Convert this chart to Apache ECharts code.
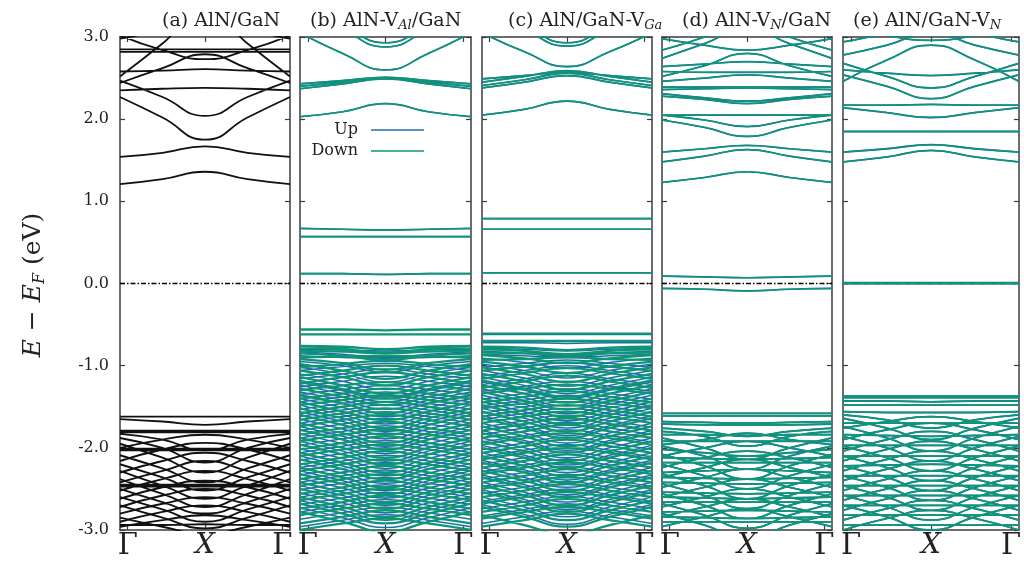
<!DOCTYPE html>
<html>
<head>
<meta charset="utf-8">
<script src="https://cdn.jsdelivr.net/npm/echarts@6/dist/echarts.min.js"></script>
<style>
  html, body { margin: 0; padding: 0; background: #ffffff; }
  #chart { width: 1024px; height: 561px; }
</style>
</head>
<body>
<div id="chart"></div>
<script>
// Band structures along Γ → X → Γ.
// Each band is [E(Γ), E(halfway to X), E(X)] in eV relative to E_F;
// the X → Γ leg is the same path walked back.
const kLabels = ['Γ', 'X', 'Γ'];
const kPoints = [0, 0.5, 1, 1.5, 2];

// (a) AlN/GaN
const aCond = [
  [1.21, 1.27, 1.36], [1.54, 1.59, 1.67], [2.27, 2.02, 1.75], [2.47, 2.27, 2.04],
  [2.35, 2.37, 2.38], [2.58, 2.59, 2.61], [2.52, 2.92, 3.35], [3.02, 2.84, 2.73],
  [2.44, 2.62, 2.79], [2.82, 2.82, 2.82], [2.85, 2.85, 2.85], [2.98, 3.10, 3.30]
];
const aVal = [
  [-1.62, -1.62, -1.62], [-1.65, -1.68, -1.72], [-1.79, -1.79, -1.79], [-1.81, -1.81, -1.81],
  [-1.83, -1.90, -2.03], [-2.00, -1.90, -1.84], [-1.88, -2.00, -2.18], [-2.16, -2.02, -1.94],
  [-2.01, -2.01, -2.01], [-2.03, -2.03, -2.03], [-1.95, -2.12, -2.30], [-2.30, -2.16, -2.06],
  [-2.09, -2.25, -2.42], [-2.42, -2.28, -2.16], [-2.20, -2.36, -2.52], [-2.52, -2.38, -2.28],
  [-2.45, -2.45, -2.45], [-2.47, -2.47, -2.47], [-2.28, -2.46, -2.62], [-2.62, -2.48, -2.40],
  [-2.38, -2.56, -2.72], [-2.72, -2.58, -2.50], [-2.50, -2.66, -2.80], [-2.80, -2.68, -2.60],
  [-2.60, -2.75, -2.90], [-2.90, -2.78, -2.70], [-2.70, -2.85, -2.98], [-2.96, -2.88, -2.82],
  [-2.85, -2.96, -3.05], [-2.94, -2.94, -2.93]
];

// (b) AlN-V_Al/GaN
const bCond = [
  [0.12, 0.12, 0.11], [0.57, 0.57, 0.57], [0.67, 0.66, 0.65],
  [2.03, 2.09, 2.19], [2.43, 2.47, 2.51], [2.40, 2.45, 2.50], [2.37, 2.43, 2.49],
  [3.05, 2.80, 2.60], [3.40, 3.10, 2.88], [3.45, 3.15, 2.93]
];
const bValDown = [
  [-0.56, -0.56, -0.57], [-0.62, -0.62, -0.62],
  [-0.76, -0.77, -0.80], [-0.78, -0.80, -0.84], [-0.82, -0.83, -0.85], [-0.85, -0.88, -0.93], [-0.90, -0.89, -0.88],
  [-0.92, -0.97, -1.05], [-1.02, -0.98, -0.94], [-0.98, -1.06, -1.16], [-1.12, -1.06, -1.00],
  [-1.06, -1.14, -1.24], [-1.22, -1.14, -1.08], [-1.14, -1.24, -1.34], [-1.30, -1.24, -1.20],
  [-1.20, -1.30, -1.40], [-1.40, -1.34, -1.28], [-1.28, -1.38, -1.48], [-1.48, -1.42, -1.36],
  [-1.36, -1.46, -1.58], [-1.58, -1.50, -1.44], [-1.44, -1.56, -1.66], [-1.66, -1.58, -1.52],
  [-1.52, -1.64, -1.76], [-1.74, -1.66, -1.60], [-1.60, -1.72, -1.84], [-1.84, -1.76, -1.68],
  [-1.70, -1.82, -1.94], [-1.92, -1.84, -1.78], [-1.78, -1.90, -2.02], [-2.02, -1.94, -1.86],
  [-1.88, -2.00, -2.12], [-2.10, -2.02, -1.96], [-1.96, -2.08, -2.20], [-2.20, -2.12, -2.04],
  [-2.06, -2.18, -2.30], [-2.28, -2.20, -2.14], [-2.14, -2.26, -2.38], [-2.38, -2.30, -2.22],
  [-2.24, -2.36, -2.48], [-2.46, -2.38, -2.32], [-2.32, -2.44, -2.56], [-2.56, -2.48, -2.40],
  [-2.42, -2.54, -2.66], [-2.64, -2.56, -2.50], [-2.50, -2.62, -2.74], [-2.74, -2.66, -2.58],
  [-2.60, -2.72, -2.84], [-2.82, -2.74, -2.68], [-2.68, -2.80, -2.92], [-2.92, -2.84, -2.76],
  [-2.78, -2.90, -3.02], [-3.00, -2.92, -2.86]
];
const bValUp = [
  [-0.80, -0.81, -0.82], [-0.83, -0.86, -0.90], [-0.88, -0.90, -0.91],
  [-0.95, -1.00, -1.08], [-1.06, -1.01, -0.97], [-1.02, -1.10, -1.20], [-1.16, -1.10, -1.04],
  [-1.10, -1.19, -1.29], [-1.26, -1.19, -1.13], [-1.18, -1.28, -1.38], [-1.35, -1.29, -1.24],
  [-1.24, -1.34, -1.44], [-1.44, -1.38, -1.32], [-1.32, -1.42, -1.53], [-1.53, -1.46, -1.40],
  [-1.40, -1.51, -1.62], [-1.62, -1.54, -1.48], [-1.48, -1.60, -1.71], [-1.70, -1.62, -1.56],
  [-1.56, -1.68, -1.80], [-1.79, -1.71, -1.64], [-1.65, -1.77, -1.89], [-1.88, -1.80, -1.73],
  [-1.74, -1.86, -1.98], [-1.97, -1.89, -1.82], [-1.83, -1.95, -2.07], [-2.06, -1.98, -1.91],
  [-1.92, -2.04, -2.16], [-2.15, -2.07, -2.00], [-2.01, -2.13, -2.25], [-2.24, -2.16, -2.09],
  [-2.10, -2.22, -2.34], [-2.33, -2.25, -2.18], [-2.19, -2.31, -2.43], [-2.42, -2.34, -2.27],
  [-2.28, -2.40, -2.52], [-2.51, -2.43, -2.36], [-2.37, -2.49, -2.61], [-2.60, -2.52, -2.45],
  [-2.46, -2.58, -2.70], [-2.69, -2.61, -2.54], [-2.55, -2.67, -2.79], [-2.78, -2.70, -2.63],
  [-2.64, -2.76, -2.88], [-2.87, -2.79, -2.72], [-2.73, -2.85, -2.97], [-2.96, -2.88, -2.81]
];

// (c) AlN/GaN-V_Ga
const cCond = [
  [0.13, 0.13, 0.13], [0.66, 0.66, 0.66], [0.79, 0.79, 0.79],
  [2.05, 2.12, 2.22], [2.49, 2.53, 2.57], [2.45, 2.52, 2.59], [2.41, 2.48, 2.56],
  [2.38, 2.45, 2.53], [3.05, 2.82, 2.64], [3.40, 3.10, 2.89], [3.45, 3.15, 2.93]
];
const cValDown = [
  [-0.61, -0.61, -0.61], [-0.70, -0.70, -0.70],
  [-0.77, -0.78, -0.81], [-0.80, -0.82, -0.86], [-0.84, -0.85, -0.87], [-0.87, -0.91, -0.97], [-0.93, -0.92, -0.90],
  [-0.95, -1.01, -1.09], [-1.06, -1.01, -0.96], [-1.02, -1.10, -1.20], [-1.16, -1.09, -1.03],
  [-1.10, -1.19, -1.29], [-1.27, -1.19, -1.12], [-1.18, -1.28, -1.38], [-1.34, -1.28, -1.23],
  [-1.24, -1.34, -1.45], [-1.45, -1.38, -1.31], [-1.32, -1.43, -1.53], [-1.52, -1.46, -1.40],
  [-1.40, -1.51, -1.62], [-1.62, -1.54, -1.48], [-1.48, -1.60, -1.71], [-1.70, -1.62, -1.56],
  [-1.56, -1.68, -1.80], [-1.79, -1.71, -1.64], [-1.64, -1.76, -1.88], [-1.88, -1.80, -1.72],
  [-1.74, -1.86, -1.98], [-1.96, -1.88, -1.82], [-1.82, -1.94, -2.06], [-2.06, -1.98, -1.90],
  [-1.92, -2.04, -2.16], [-2.14, -2.06, -2.00], [-2.00, -2.12, -2.24], [-2.24, -2.16, -2.08],
  [-2.10, -2.22, -2.34], [-2.32, -2.24, -2.18], [-2.18, -2.30, -2.42], [-2.42, -2.34, -2.26],
  [-2.28, -2.40, -2.52], [-2.50, -2.42, -2.36], [-2.36, -2.48, -2.60], [-2.60, -2.52, -2.44],
  [-2.46, -2.58, -2.70], [-2.68, -2.60, -2.54], [-2.54, -2.66, -2.78], [-2.78, -2.70, -2.62],
  [-2.64, -2.76, -2.88], [-2.86, -2.78, -2.72], [-2.72, -2.84, -2.96], [-2.96, -2.88, -2.80],
  [-2.82, -2.94, -3.06]
];
const cValUp = [
  [-0.62, -0.62, -0.62], [-0.72, -0.72, -0.73],
  [-0.79, -0.80, -0.82], [-0.82, -0.85, -0.89], [-0.86, -0.88, -0.90],
  [-0.91, -0.96, -1.03], [-1.02, -0.97, -0.93], [-0.98, -1.06, -1.15], [-1.13, -1.06, -1.00],
  [-1.06, -1.15, -1.25], [-1.23, -1.16, -1.09], [-1.14, -1.24, -1.34], [-1.31, -1.25, -1.19],
  [-1.20, -1.30, -1.40], [-1.41, -1.34, -1.28], [-1.28, -1.39, -1.49], [-1.49, -1.42, -1.36],
  [-1.36, -1.47, -1.58], [-1.58, -1.50, -1.44], [-1.44, -1.56, -1.67], [-1.66, -1.58, -1.52],
  [-1.52, -1.64, -1.76], [-1.75, -1.67, -1.60], [-1.61, -1.73, -1.85], [-1.84, -1.76, -1.69],
  [-1.70, -1.82, -1.94], [-1.93, -1.85, -1.78], [-1.79, -1.91, -2.03], [-2.02, -1.94, -1.87],
  [-1.88, -2.00, -2.12], [-2.11, -2.03, -1.96], [-1.97, -2.09, -2.21], [-2.20, -2.12, -2.05],
  [-2.06, -2.18, -2.30], [-2.29, -2.21, -2.14], [-2.15, -2.27, -2.39], [-2.38, -2.30, -2.23],
  [-2.24, -2.36, -2.48], [-2.47, -2.39, -2.32], [-2.33, -2.45, -2.57], [-2.56, -2.48, -2.41],
  [-2.42, -2.54, -2.66], [-2.65, -2.57, -2.50], [-2.51, -2.63, -2.75], [-2.74, -2.66, -2.59],
  [-2.60, -2.72, -2.84], [-2.83, -2.75, -2.68], [-2.69, -2.81, -2.93], [-2.92, -2.84, -2.77]
];

// (d) AlN-V_N/GaN (both spin channels nearly degenerate)
const dCond = [
  [-0.06, -0.07, -0.09], [0.09, 0.08, 0.07],
  [1.23, 1.29, 1.36], [1.48, 1.55, 1.63], [1.60, 1.64, 1.68], [1.99, 1.90, 1.79],
  [2.05, 1.99, 1.91], [2.05, 2.05, 2.05], [2.28, 2.24, 2.19], [2.31, 2.26, 2.22],
  [2.36, 2.37, 2.38], [2.39, 2.39, 2.39], [2.46, 2.50, 2.54], [2.58, 2.57, 2.57],
  [2.64, 2.67, 2.70], [2.52, 2.65, 2.80], [2.98, 2.90, 2.84], [2.84, 3.00, 3.20],
  [2.74, 2.92, 3.10]
];
const dVal = [
  [-1.58, -1.58, -1.58], [-1.61, -1.61, -1.61], [-1.68, -1.69, -1.70], [-1.71, -1.72, -1.72],
  [-1.76, -1.80, -1.86], [-1.80, -1.86, -1.98], [-1.96, -1.90, -1.82],
  [-1.88, -2.00, -2.14], [-2.10, -2.00, -1.92], [-1.98, -2.10, -2.26], [-2.24, -2.12, -2.04],
  [-2.08, -2.22, -2.38], [-2.36, -2.24, -2.14], [-2.20, -2.34, -2.50], [-2.48, -2.36, -2.26],
  [-2.32, -2.46, -2.62], [-2.60, -2.48, -2.38], [-2.44, -2.58, -2.74], [-2.72, -2.60, -2.50],
  [-2.56, -2.70, -2.86], [-2.84, -2.72, -2.62], [-2.68, -2.82, -2.98], [-2.96, -2.84, -2.74],
  [-2.80, -2.94, -3.10], [-1.92, -1.92, -1.92], [-2.18, -2.18, -2.18], [-2.42, -2.43, -2.44],
  [-2.66, -2.66, -2.66], [-2.90, -2.90, -2.90], [-2.02, -2.06, -2.10], [-2.30, -2.28, -2.26],
  [-2.54, -2.55, -2.56], [-2.78, -2.77, -2.76], [-1.84, -1.84, -1.85], [-2.12, -2.13, -2.14],
  [-2.36, -2.37, -2.38], [-2.60, -2.61, -2.62], [-2.84, -2.85, -2.86]
];

// (e) AlN/GaN-V_N
const eCond = [
  [0.01, 0.01, 0.01], [0.00, 0.00, 0.00],
  [1.48, 1.54, 1.62], [1.60, 1.64, 1.69], [1.85, 1.85, 1.85], [2.14, 2.08, 2.02],
  [2.17, 2.17, 2.18], [2.68, 2.52, 2.38], [2.54, 2.40, 2.25], [2.60, 2.56, 2.53],
  [2.46, 2.72, 2.90], [3.15, 3.02, 2.96], [2.78, 2.90, 3.05], [2.94, 3.05, 3.20]
];
const eVal = [
  [-1.37, -1.37, -1.37], [-1.39, -1.39, -1.39], [-1.43, -1.43, -1.44], [-1.48, -1.48, -1.48],
  [-1.56, -1.57, -1.57], [-1.60, -1.66, -1.76], [-1.76, -1.68, -1.62], [-1.64, -1.76, -1.90],
  [-1.90, -1.78, -1.70], [-1.74, -1.88, -2.04], [-2.04, -1.90, -1.80], [-1.86, -2.00, -2.16],
  [-2.16, -2.02, -1.92], [-1.98, -2.12, -2.28], [-2.28, -2.14, -2.04], [-2.10, -2.24, -2.40],
  [-2.40, -2.26, -2.16], [-2.22, -2.36, -2.52], [-2.52, -2.38, -2.28], [-2.34, -2.48, -2.64],
  [-2.64, -2.50, -2.40], [-2.46, -2.60, -2.76], [-2.76, -2.62, -2.52], [-2.58, -2.72, -2.88],
  [-2.88, -2.74, -2.64], [-2.70, -2.84, -3.00], [-3.00, -2.86, -2.76],
  [-1.70, -1.70, -1.70], [-1.84, -1.85, -1.86], [-1.97, -1.97, -1.97], [-2.10, -2.10, -2.10],
  [-2.22, -2.21, -2.20], [-2.34, -2.34, -2.34], [-2.46, -2.46, -2.46], [-2.58, -2.58, -2.58],
  [-2.70, -2.70, -2.70], [-2.82, -2.82, -2.82], [-2.94, -2.94, -2.94]
];

// ---- drawing ----
const FONT = 'DejaVu Serif';
const C_UP = '#1f6fae';
const C_DOWN = '#0e9576';
const C_BULK = '#111111';
const FRAME = '#3c3c3c';

// each spin set: conduction-side bands and valence-side bands with their own stroke widths
const panels = [
  { left: 120, width: 170, title: '(a) AlN/GaN', tx: 162,
    sets: [{ name: 'AlN/GaN', color: C_BULK, cb: aCond, vb: aVal, wc: 1.8, wv: 1.9 }] },
  { left: 300, width: 171, title: '(b) AlN-V{s|Al}/GaN', tx: 310,
    sets: [{ name: 'Up', color: C_UP, cb: bCond, vb: bValUp, wc: 1.7, wv: 1.5 },
           { name: 'Down', color: C_DOWN, cb: bCond, vb: bValDown, wc: 1.6, wv: 2.3 }] },
  { left: 482, width: 170, title: '(c) AlN/GaN-V{s|Ga}', tx: 508,
    sets: [{ name: 'Up', color: C_UP, cb: cCond, vb: cValUp, wc: 1.7, wv: 1.5 },
           { name: 'Down', color: C_DOWN, cb: cCond, vb: cValDown, wc: 1.6, wv: 2.3 }] },
  { left: 662, width: 170, title: '(d) AlN-V{s|N}/GaN', tx: 682,
    sets: [{ name: 'Up', color: C_UP, cb: dCond, vb: dVal, wc: 1.7, wv: 1.8 },
           { name: 'Down', color: C_DOWN, cb: dCond, vb: dVal, wc: 1.5, wv: 1.7 }] },
  { left: 843, width: 180, title: '(e) AlN/GaN-V{s|N}', tx: 853,
    sets: [{ name: 'Up', color: C_UP, cb: eCond, vb: eVal, wc: 1.8, wv: 1.8 },
           { name: 'Down', color: C_DOWN, cb: eCond, vb: eVal, wc: 1.5, wv: 1.7 }] }
];
const TOP = 37, HEIGHT = 493;

function bandPath(bands) {
  const out = [];
  bands.forEach(b => {
    const e = [b[0], b[1], b[2], b[1], b[0]];
    kPoints.forEach((k, j) => out.push([k, e[j]]));
    out.push(['-', '-']);
  });
  return out;
}

const grid = [], xAxis = [], yAxis = [], series = [], graphic = [];
const tickStyle = { color: FRAME, width: 1.2 };
const frameLine = { show: true, onZero: false, lineStyle: { color: FRAME, width: 1.5 } };

panels.forEach((p, i) => {
  grid.push({ left: p.left, top: TOP, width: p.width, height: HEIGHT });
  // data axis
  xAxis.push({ gridIndex: i, type: 'value', min: 0, max: 2, show: false });
  // labelled k-point axes (bottom and top)
  ['bottom', 'top'].forEach(pos => {
    xAxis.push({
      gridIndex: i, type: 'value', min: -0.1, max: 2.1, position: pos,
      axisLine: frameLine,
      axisTick: { show: true, inside: true, length: 5, lineStyle: tickStyle, customValues: [0, 1, 2] },
      axisLabel: pos === 'bottom' ? {
        show: true, customValues: [0, 1, 2], margin: 2,
        formatter: v => v === 1 ? '{x|' + kLabels[1] + '}' : '{g|' + kLabels[Math.round(v)] + '}',
        rich: {
          g: { fontFamily: FONT, fontSize: 29, color: '#222' },
          x: { fontFamily: FONT, fontSize: 28, fontStyle: 'italic', color: '#222' }
        }
      } : { show: false },
      splitLine: { show: false }
    });
  });
  ['left', 'right'].forEach(pos => {
    yAxis.push({
      gridIndex: i, type: 'value', min: -3, max: 3, interval: 1, position: pos,
      axisLine: frameLine,
      axisTick: { show: true, inside: true, length: 5, lineStyle: tickStyle },
      axisLabel: (pos === 'left' && i === 0) ? {
        show: true, margin: 11, fontFamily: FONT, fontSize: 16, color: '#222',
        formatter: v => v.toFixed(1)
      } : { show: false },
      splitLine: { show: false }
    });
  });
  const xi = i * 3, yi = i * 2;
  // Fermi level
  series.push({
    type: 'line', xAxisIndex: xi, yAxisIndex: yi, data: [[0, 0], [2, 0]],
    symbol: 'none', silent: true,
    lineStyle: { color: '#000', width: 1.3, type: [5, 2, 1.5, 2] }
  });
  p.sets.forEach(s => {
    [[s.cb, s.wc], [s.vb, s.wv]].forEach(([bands, w]) => {
      series.push({
        name: s.name, type: 'line', xAxisIndex: xi, yAxisIndex: yi,
        data: bandPath(bands), symbol: 'none', smooth: 0.5,
        connectNulls: false, silent: true, clip: true,
        lineStyle: { color: s.color, width: w }
      });
    });
  });
  graphic.push({
    type: 'text', x: p.tx, y: 21,
    style: {
      text: p.title, fontFamily: FONT, fontSize: 19, fill: '#222', lineHeight: 22,
      verticalAlign: 'middle', align: 'left',
      rich: { s: { fontFamily: FONT, fontSize: 13, fontStyle: 'italic', fill: '#222', verticalAlign: 'bottom', lineHeight: 14 } }
    }
  });
});

// spin legend inside panel (b)
[['Up', C_UP, 130], ['Down', C_DOWN, 151]].forEach(([t, c, y]) => {
  graphic.push({ type: 'text', x: 358, y: y,
    style: { text: t, fontFamily: FONT, fontSize: 16, fill: '#222', align: 'right', verticalAlign: 'middle' } });
  graphic.push({ type: 'line', shape: { x1: 371, y1: y, x2: 424, y2: y },
    style: { stroke: c, lineWidth: 1.6 } });
});

// energy axis title
graphic.push({
  type: 'text', x: 33, y: 285, rotation: Math.PI / 2,
  style: {
    text: '{i|E} − {i|E}{s|F} (eV)', fontFamily: FONT, fontSize: 25, fill: '#222',
    align: 'center', verticalAlign: 'middle', lineHeight: 30,
    rich: {
      i: { fontFamily: FONT, fontSize: 25, fontStyle: 'italic', fill: '#222' },
      s: { fontFamily: FONT, fontSize: 16, fontStyle: 'italic', fill: '#222', verticalAlign: 'bottom', lineHeight: 18 }
    }
  }
});

const chart = echarts.init(document.getElementById('chart'), null, { renderer: 'canvas' });
chart.setOption({
  animation: false,
  backgroundColor: '#ffffff',
  grid, xAxis, yAxis, series, graphic
});
</script>
</body>
</html>
